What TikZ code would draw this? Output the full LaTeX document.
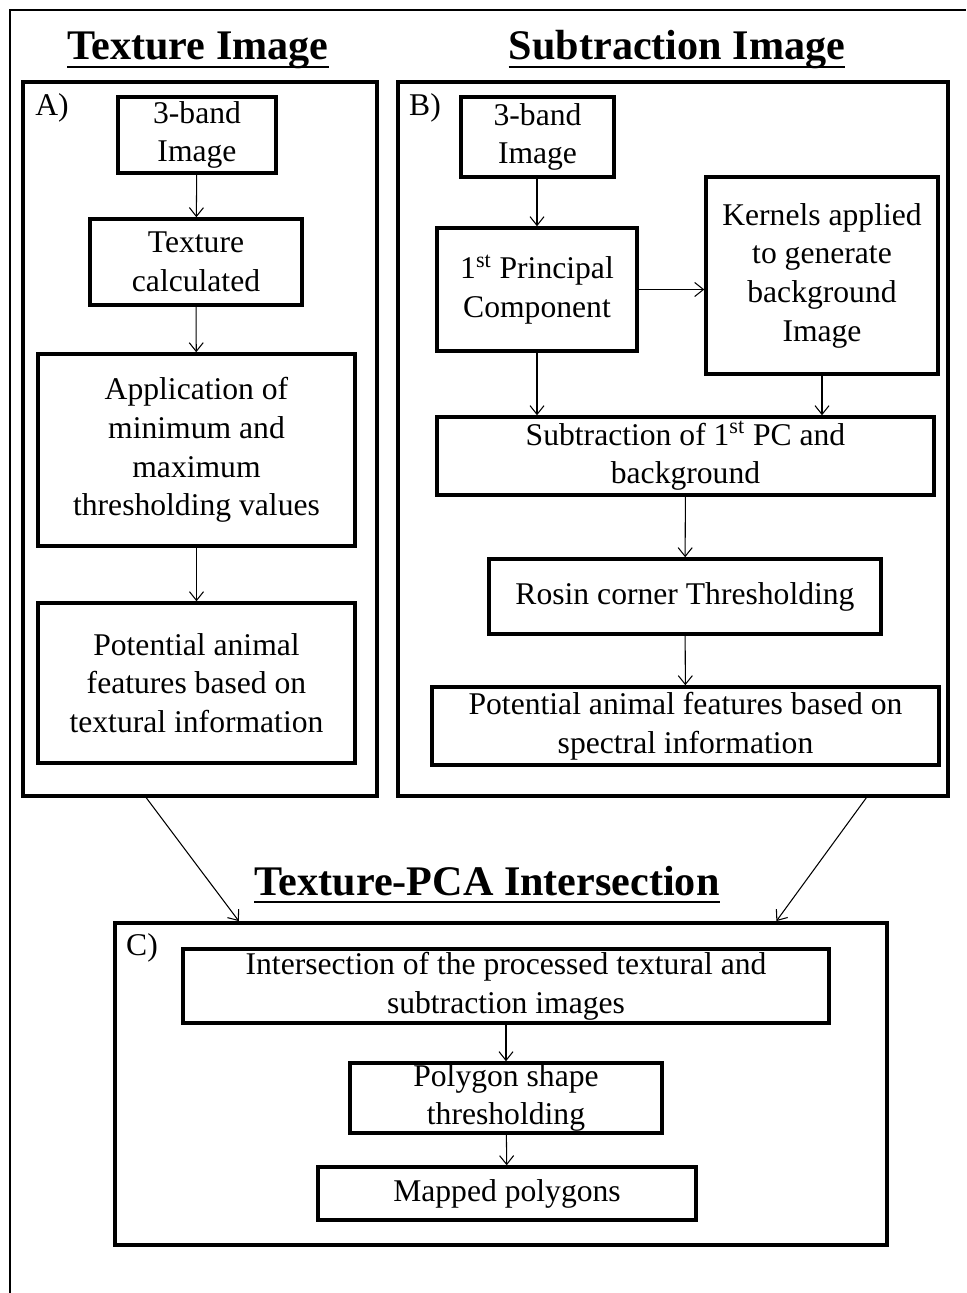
\documentclass[tikz,border=0pt]{standalone}
\usepackage{fontspec}
\setmainfont{Liberation Serif}
\usetikzlibrary{arrows.meta, positioning, calc}

\begin{document}
\begin{tikzpicture}[x=0.02cm, y=-0.02cm,
    procbox/.style={draw, line width=2pt, inner sep=0pt, align=center, font=\fontsize{18}{22}\selectfont},
    panel/.style={draw, line width=2.2pt, inner sep=0pt},
    ttl/.style={inner sep=0pt, anchor=base, font=\fontsize{24}{28}\bfseries},
    tag/.style={inner sep=0pt, font=\fontsize{18}{22}\selectfont},
    flow/.style={-{Straight Barb[length=5pt, width=8pt]}, line width=0.6pt}]
    \useasboundingbox (0,0) rectangle (966,1293);

    % Outer frame (top and left edges only)
    \draw[line width=1.1pt] (10,1293) -- (10,10) -- (966,10);

    % Titles
    \node[ttl] (ttlA) at (198,60) {Texture Image};
    \node[ttl] (ttlB) at (677,60) {Subtraction Image};
    \node[ttl] (ttlC) at (487,895) {Texture-PCA Intersection};
    \foreach \t in {ttlA, ttlB, ttlC}
        \draw[line width=1.6pt] ([yshift=-4pt]\t.base west) -- ([yshift=-4pt]\t.base east);

    % Panel A: texture image
    \node[panel, minimum width=7.08cm, minimum height=14.28cm] (panelA) at (200,439) {};
    \node[tag] at (52,108) {A)};
    \node[procbox, minimum width=3.16cm, minimum height=1.52cm] (bandA) at (197,135) {3-band\\ Image};
    \node[procbox, minimum width=4.24cm, minimum height=1.72cm] (texcalc) at (196,262) {Texture\\ calculated};
    \node[procbox, minimum width=6.34cm, minimum height=3.84cm] (minmax) at (196.5,450) {Application of\\ minimum and\\ maximum\\ thresholding values};
    \node[procbox, minimum width=6.34cm, minimum height=3.2cm] (potTex) at (196.5,683) {Potential animal\\ features based on\\ textural information};

    \draw[flow] (bandA) -- (texcalc);
    \draw[flow] (texcalc) -- (minmax);
    \draw[flow] (minmax) -- (potTex);

    % Panel B: subtraction image
    \node[panel, minimum width=11cm, minimum height=14.28cm] (panelB) at (673,439) {};
    \node[tag] at (425,108) {B)};
    \node[procbox, minimum width=3.06cm, minimum height=1.6cm] (bandB) at (537.5,137) {3-band\\ Image};
    \node[procbox, minimum width=4cm, minimum height=2.46cm] (pcOne) at (537,289.5) {1\textsuperscript{st} Principal\\ Component};
    \node[procbox, minimum width=4.64cm, minimum height=3.94cm] (kernels) at (822,275.5) {Kernels applied\\ to generate\\ background\\ Image};
    \node[procbox, minimum width=9.94cm, minimum height=1.56cm] (subtr) at (685.5,456) {Subtraction of 1\textsuperscript{st} PC and\\ background};
    \node[procbox, minimum width=7.84cm, minimum height=1.5cm] (rosin) at (685,596.5) {Rosin corner Thresholding};
    \node[procbox, minimum width=10.14cm, minimum height=1.56cm] (potSpec) at (685.5,726) {Potential animal features based on\\ spectral information};

    \draw[flow] (bandB.south -| pcOne) -- (pcOne);
    \draw[flow] (pcOne.east) -- (pcOne.east -| kernels.west);
    \draw[flow] (pcOne.south) -- (pcOne.south |- subtr.north);
    \draw[flow] (kernels.south) -- (kernels.south |- subtr.north);
    \draw[flow] (subtr) -- (rosin);
    \draw[flow] (rosin) -- (potSpec);

    % Panel C: intersection
    \node[panel, minimum width=15.44cm, minimum height=6.44cm] (panelC) at (501,1084) {};
    \node[tag] at (142,948) {C)};
    \node[procbox, minimum width=12.92cm, minimum height=1.48cm] (inters) at (506,986) {Intersection of the processed textural and\\ subtraction images};
    \node[procbox, minimum width=6.24cm, minimum height=1.4cm] (polyThr) at (506,1098) {Polygon shape\\ thresholding};
    \node[procbox, minimum width=7.56cm, minimum height=1.06cm] (mapped) at (507,1193.5) {Mapped polygons};

    \draw[flow] (inters) -- (polyThr);
    \draw[flow] (polyThr) -- (mapped);

    % Panels feeding the intersection
    \draw[flow] ($(panelA.south west)!0.35!(panelA.south east)$) -- ($(panelC.north west)!0.162!(panelC.north east)$);
    \draw[flow] ($(panelB.south west)!0.849!(panelB.south east)$) -- ($(panelC.north west)!0.855!(panelC.north east)$);
\end{tikzpicture}
\end{document}
